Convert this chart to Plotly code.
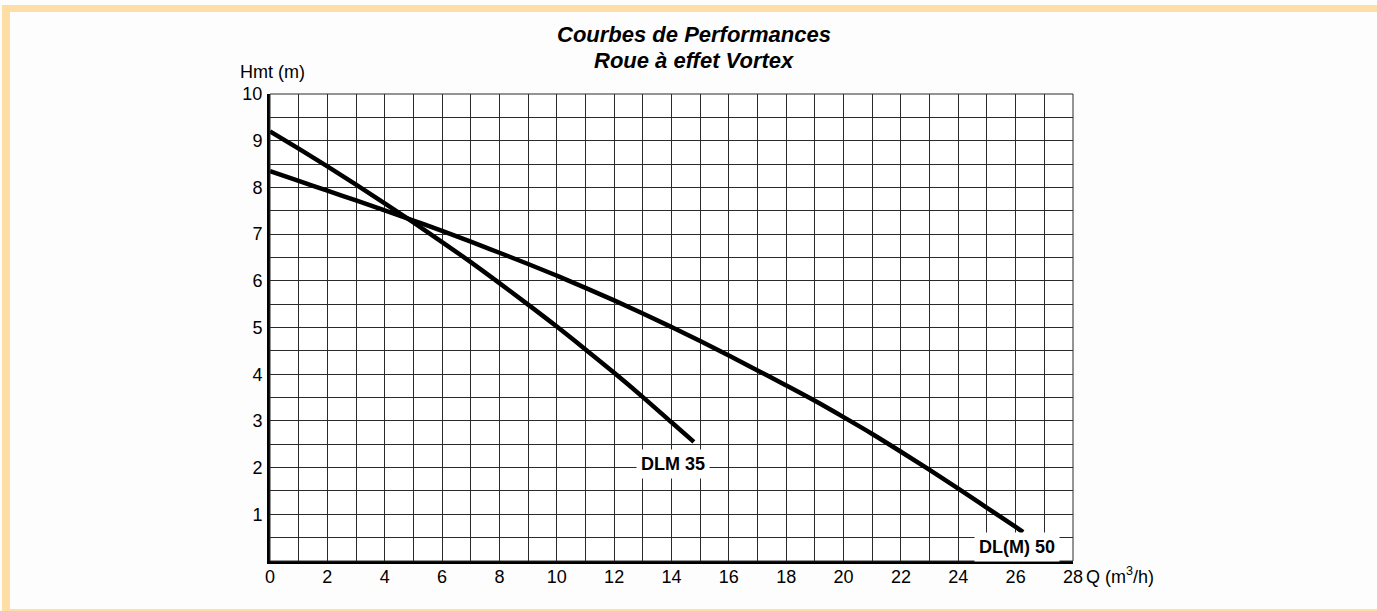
import plotly.graph_objects as go

# ---- data ----
q_dlm35 = [0, 1, 2, 3, 4, 5, 6, 7, 8, 9, 10, 11, 12, 13, 14, 14.78]
h_dlm35 = [9.2, 8.83, 8.45, 8.06, 7.66, 7.25, 6.83, 6.4, 5.95, 5.49, 5.02, 4.53, 4.03, 3.51, 2.97, 2.55]

q_dl50 = [0, 1, 2, 3, 4, 5, 6, 7, 8, 9, 10, 11, 12, 13, 14, 15, 16, 17, 18, 19, 20,
          21, 22, 23, 24, 25, 26, 26.26]
h_dl50 = [8.35, 8.14, 7.93, 7.72, 7.51, 7.29, 7.07, 6.84, 6.6, 6.36, 6.11, 5.85, 5.58,
          5.3, 5.01, 4.71, 4.4, 4.08, 3.76, 3.43, 3.08, 2.72, 2.34, 1.95, 1.55, 1.14,
          0.73, 0.62]

x_ticks = [0, 2, 4, 6, 8, 10, 12, 14, 16, 18, 20, 22, 24, 26, 28]
y_ticks = [1, 2, 3, 4, 5, 6, 7, 8, 9, 10]

title_lines = ["Courbes de Performances", "Roue à effet Vortex"]
y_title = "Hmt (m)"
x_title = "Q (m<sup>3</sup>/h)"
label_dlm35 = "DLM 35"
label_dl50 = "DL(M) 50"

# ---- layout geometry ----
W, H = 1377, 611
L, R, T, B = 270, 304, 94, 50
PW, PH = W - L - R, H - T - B

def px(xp):
    return (xp - L) / PW

def py(yp):
    return (H - B - yp) / PH

FONT = "Liberation Sans, Arial, Helvetica, sans-serif"
GRID = "#2a2a2a"
BORDER = "#FDDFA6"

fig = go.Figure()
fig.add_trace(go.Scatter(x=q_dlm35, y=h_dlm35, mode="lines",
                         line=dict(color="black", width=4.5, shape="spline", smoothing=1),
                         showlegend=False, hoverinfo="skip"))
fig.add_trace(go.Scatter(x=q_dl50, y=h_dl50, mode="lines",
                         line=dict(color="black", width=4.5, shape="spline", smoothing=1),
                         showlegend=False, hoverinfo="skip"))

fig.update_layout(
    width=W, height=H,
    margin=dict(l=L, r=R, t=T, b=B, autoexpand=False),
    paper_bgcolor="#fdfdfd",
    plot_bgcolor="white",
    font=dict(family=FONT, size=18, color="black"),
    showlegend=False,
)

fig.update_xaxes(
    range=[0, 28], tickmode="array", tickvals=x_ticks,
    ticktext=[str(v) for v in x_ticks],
    showgrid=True, gridcolor=GRID, gridwidth=1,
    minor=dict(tickmode="linear", tick0=0, dtick=1, showgrid=True,
               gridcolor=GRID, gridwidth=1),
    zeroline=False, showline=True, linecolor="black", linewidth=3,
    ticks="", ticklabelstandoff=-3,
    tickfont=dict(family=FONT, size=18, color="black"),
)
fig.update_yaxes(
    range=[0, 10], tickmode="array", tickvals=y_ticks,
    ticktext=[str(v) for v in y_ticks],
    showgrid=True, gridcolor=GRID, gridwidth=1,
    minor=dict(tickmode="linear", tick0=0, dtick=0.5, showgrid=True,
               gridcolor=GRID, gridwidth=1),
    zeroline=False, showline=True, linecolor="black", linewidth=3,
    ticks="", ticklabelstandoff=1,
    tickfont=dict(family=FONT, size=18, color="black"),
)

# plot frame (thin top/right)
fig.add_shape(type="rect", xref="paper", yref="paper", x0=0, x1=1, y0=0, y1=1,
              line=dict(color=GRID, width=1), layer="above")

# decorative orange page border
fig.add_shape(type="rect", xref="paper", yref="paper",
              x0=px(2), x1=px(W + 5), y0=py(12), y1=py(5),
              line=dict(width=0), fillcolor=BORDER, layer="below")
fig.add_shape(type="rect", xref="paper", yref="paper",
              x0=px(2), x1=px(10), y0=py(H + 5), y1=py(5),
              line=dict(width=0), fillcolor=BORDER, layer="below")
fig.add_shape(type="rect", xref="paper", yref="paper",
              x0=px(2), x1=px(W + 5), y0=py(H + 5), y1=py(609),
              line=dict(width=0), fillcolor=BORDER, layer="below")

# titles
fig.add_annotation(text="<b><i>%s</i></b>" % title_lines[0], xref="paper", yref="paper",
                   x=px(694), y=py(35), xanchor="center", yanchor="middle",
                   showarrow=False, font=dict(family=FONT, size=22, color="black"))
fig.add_annotation(text="<b><i>%s</i></b>" % title_lines[1], xref="paper", yref="paper",
                   x=px(694), y=py(61), xanchor="center", yanchor="middle",
                   showarrow=False, font=dict(family=FONT, size=22, color="black"))

# axis titles
fig.add_annotation(text=y_title, xref="paper", yref="paper",
                   x=px(238), y=py(72), xanchor="left", yanchor="middle",
                   showarrow=False, font=dict(family=FONT, size=18, color="black"))
fig.add_annotation(text=x_title, xref="x", yref="paper",
                   x=28, y=py(575), xanchor="left", yanchor="middle", xshift=11,
                   showarrow=False, font=dict(family=FONT, size=18, color="black"))

# curve labels
fig.add_annotation(text="<b>%s</b>" % label_dlm35, x=14.06, y=2.08,
                   xanchor="center", yanchor="middle", showarrow=False,
                   bgcolor="white", borderpad=4,
                   font=dict(family=FONT, size=18, color="black"))
fig.add_annotation(text="<b>%s</b>" % label_dl50, x=26.04, y=0.31,
                   xanchor="center", yanchor="middle", showarrow=False,
                   bgcolor="white", borderpad=4,
                   font=dict(family=FONT, size=18, color="black"))

fig.write_html("out.html", config={"displayModeBar": False},
               post_script="document.body.style.margin='0';")
